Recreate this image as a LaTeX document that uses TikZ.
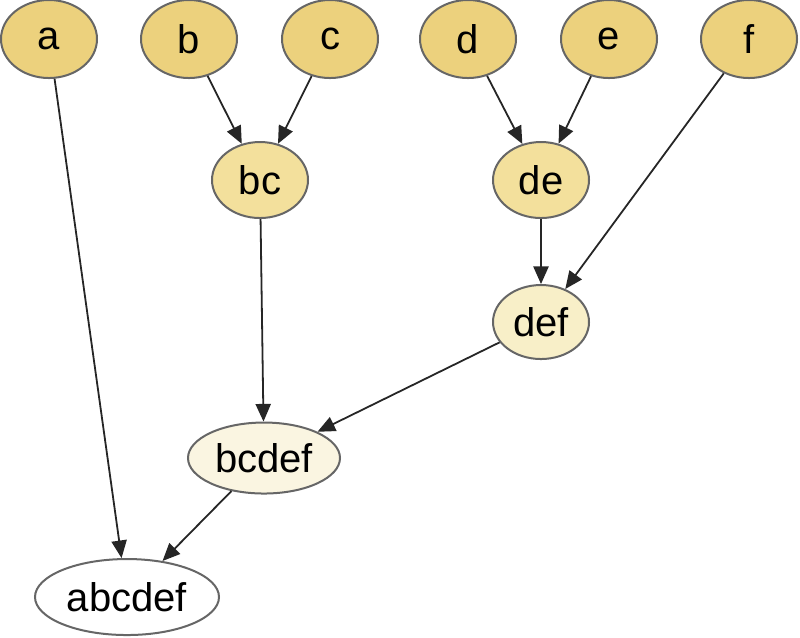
\documentclass[tikz,border=0pt]{standalone}
\usepackage{fontspec}
\setmainfont{Liberation Sans}
\usepackage{tikz}
\usetikzlibrary{shapes,arrows,arrows.meta,calc}
\definecolor{leafgold}{HTML}{ECD17D}
\definecolor{pairgold}{HTML}{F3E09C}
\definecolor{triogold}{HTML}{F8EFC8}
\definecolor{fivegold}{HTML}{FAF5E1}

\begin{document}
\begin{tikzpicture}
  [
    x=0.25pt, y=-0.25pt,
    blob/.style =
      {draw=black!60, line width=0.5pt, ellipse, inner sep=0pt, align=center},
    leaf/.style =
      {blob, fill=leafgold, minimum width=24pt, minimum height=19.5pt},
    pair/.style =
      {blob, fill=pairgold, minimum width=24pt, minimum height=19pt}
  ]
  \useasboundingbox (0,0) rectangle (800,637);

  \node [leaf] at ( 49,39)  (a) {a};
  \node [leaf] at (189,39)  (b) {b};
  \node [leaf] at (330,39)  (c) {c};
  \node [leaf] at (468,39)  (d) {d};
  \node [leaf] at (609,39)  (e) {e};
  \node [leaf] at (749,39)  (f) {f};
  \node [pair] at (260,180) (bc) {bc};
  \node [pair] at (541,180) (de) {de};
  \node [blob, fill=triogold, minimum width=24pt, minimum height=18.5pt]
    at (541,322) (def) {def};
  \node [blob, fill=fivegold, minimum width=38pt, minimum height=17.75pt]
    at (264,458) (bcdef) {bcdef};
  \node [blob, fill=white, minimum width=46pt, minimum height=19pt]
    at (127,597) (abcdef) {abcdef};

  \draw[->, >={Triangle[length=4.4pt,width=3.8pt]}, black!85, line width=0.45pt] (a)     -- (abcdef);
  \draw[->, >={Triangle[length=4.4pt,width=3.8pt]}, black!85, line width=0.45pt] (b)     -- (bc);
  \draw[->, >={Triangle[length=4.4pt,width=3.8pt]}, black!85, line width=0.45pt] (c)     -- (bc);
  \draw[->, >={Triangle[length=4.4pt,width=3.8pt]}, black!85, line width=0.45pt] (d)     -- (de);
  \draw[->, >={Triangle[length=4.4pt,width=3.8pt]}, black!85, line width=0.45pt] (e)     -- (de);
  \draw[->, >={Triangle[length=4.4pt,width=3.8pt]}, black!85, line width=0.45pt] (f)     -- (def);
  \draw[->, >={Triangle[length=4.4pt,width=3.8pt]}, black!85, line width=0.45pt] (de)    -- (def);
  \draw[->, >={Triangle[length=4.4pt,width=3.8pt]}, black!85, line width=0.45pt] (bc)    -- (bcdef);
  \draw[->, >={Triangle[length=4.4pt,width=3.8pt]}, black!85, line width=0.45pt] (def)   -- (bcdef);
  \draw[->, >={Triangle[length=4.4pt,width=3.8pt]}, black!85, line width=0.45pt] (bcdef) -- (abcdef);

\end{tikzpicture}
\end{document}
